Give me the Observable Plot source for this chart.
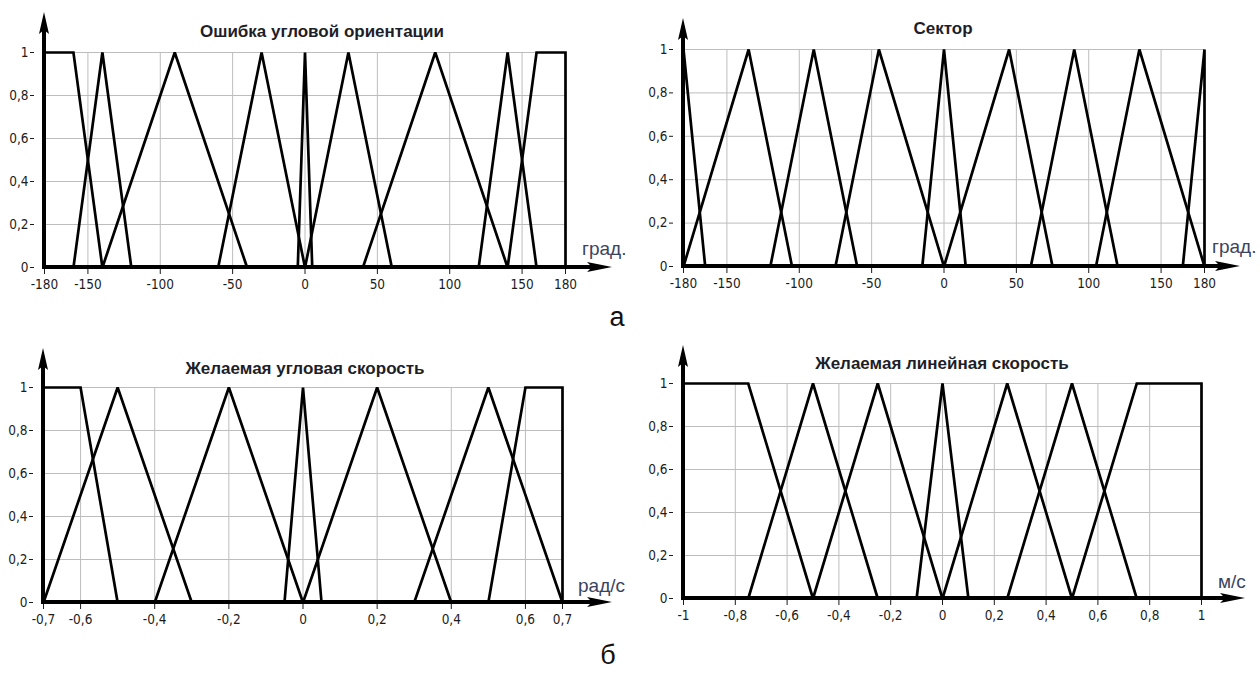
<!DOCTYPE html>
<html><head><meta charset="utf-8">
<script src="https://cdn.jsdelivr.net/npm/d3@7"></script>
<script src="https://cdn.jsdelivr.net/npm/@observablehq/plot@0.6"></script>
<style>
body{margin:0;background:#fff;}
#root{position:relative;width:1260px;height:674px;overflow:hidden;background:#fff;}
#root svg{overflow:visible;}
#root svg text{font-size:13.5px;font-family:"DejaVu Sans Condensed","DejaVu Sans",sans-serif;}
.pn{position:absolute;}
.t{position:absolute;font-family:"Liberation Sans",Arial,sans-serif;font-weight:bold;font-size:17px;line-height:17px;color:#1e1e28;white-space:nowrap;transform:translateX(-50%);}
.u{position:absolute;font-family:"Liberation Sans",Arial,sans-serif;font-size:19px;line-height:19px;color:#3a4460;white-space:nowrap;}
.l{position:absolute;font-family:"Liberation Sans",Arial,sans-serif;font-size:27px;line-height:27px;color:#111;transform:translateX(-50%);}
</style></head><body><div id="root"></div>
<script>
// ---------- data ----------
const degTicks = [-180,-150,-100,-50,0,50,100,150,180];
const degGrid = [-150,-100,-50,0,50,100,150];
const angTicks = [-0.7,-0.6,-0.4,-0.2,0,0.2,0.4,0.6,0.7];
const angGrid = [-0.6,-0.4,-0.2,0,0.2,0.4,0.6];
const linTicks = [-1,-0.8,-0.6,-0.4,-0.2,0,0.2,0.4,0.6,0.8,1];
const linGrid = [-0.8,-0.6,-0.4,-0.2,0,0.2,0.4,0.6,0.8];
const muTicks = [0,0.2,0.4,0.6,0.8,1];
const muGrid = [0.2,0.4,0.6,0.8,1];

const titles = ["Ошибка угловой ориентации","Сектор","Желаемая угловая скорость","Желаемая линейная скорость"];
const units = ["град.","град.","рад/с","м/с"];
const partLabels = ["а","б"];

// membership functions: breakpoints [x, mu]
const errorMF = [
  [[-180,0],[-180,1],[-160,1],[-140,0]],
  [[-160,0],[-140,1],[-120,0]],
  [[-140,0],[-90,1],[-40,0]],
  [[-60,0],[-30,1],[0,0]],
  [[-5,0],[0,1],[5,0]],
  [[0,0],[30,1],[60,0]],
  [[40,0],[90,1],[140,0]],
  [[120,0],[140,1],[160,0]],
  [[140,0],[160,1],[180,1],[180,0]]
];
const sectorMF = [
  [[-180,0],[-180,1],[-165,0]],
  [[-180,0],[-135,1],[-105,0]],
  [[-120,0],[-90,1],[-60,0]],
  [[-75,0],[-45,1],[0,0]],
  [[-15,0],[0,1],[15,0]],
  [[0,0],[45,1],[75,0]],
  [[60,0],[90,1],[120,0]],
  [[105,0],[135,1],[180,0]],
  [[165,0],[180,1],[180,0]]
];
const angularMF = [
  [[-0.7,0],[-0.7,1],[-0.6,1],[-0.5,0]],
  [[-0.7,0],[-0.5,1],[-0.3,0]],
  [[-0.4,0],[-0.2,1],[0,0]],
  [[-0.05,0],[0,1],[0.05,0]],
  [[0,0],[0.2,1],[0.4,0]],
  [[0.3,0],[0.5,1],[0.7,0]],
  [[0.5,0],[0.6,1],[0.7,1],[0.7,0]]
];
const linearMF = [
  [[-1,0],[-1,1],[-0.75,1],[-0.5,0]],
  [[-0.75,0],[-0.5,1],[-0.25,0]],
  [[-0.5,0],[-0.25,1],[0,0]],
  [[-0.1,0],[0,1],[0.1,0]],
  [[0,0],[0.25,1],[0.5,0]],
  [[0.25,0],[0.5,1],[0.75,0]],
  [[0.5,0],[0.75,1],[1,1],[1,0]]
];

// ---------- drawing ----------
const fmt = v => (Math.round(v*100)/100).toString().replace(".", ",");
const root = document.getElementById("root");

function axesMark(p){
  return (index, scales) => {
    const x = scales.x, y = scales.y;
    const x0 = x(p.domain[0]), xe = x(p.domain[1]);
    const yb = y(0), yt = y(1);
    const tipX = xe + p.right, tipY = yt - p.up;
    const g = d3.create("svg:g");
    g.append("line").attr("x1", x0).attr("x2", tipX - 12).attr("y1", yb).attr("y2", yb)
      .attr("stroke", "#000").attr("stroke-width", 4);
    g.append("line").attr("x1", x0).attr("x2", x0).attr("y1", yb + 2).attr("y2", tipY + 12)
      .attr("stroke", "#000").attr("stroke-width", 4);
    g.append("path").attr("fill", "#000")
      .attr("d", `M${tipX},${yb} L${tipX-25},${yb-5} L${tipX-20},${yb} L${tipX-25},${yb+5} Z`);
    g.append("path").attr("fill", "#000")
      .attr("d", `M${x0},${tipY} L${x0-5},${tipY+22} L${x0},${tipY+18} L${x0+5},${tipY+22} Z`);
    return g.node();
  };
}

function panel(p){
  const rows = p.mf.flatMap((pts, i) => pts.map(([xv, yv]) => ({id: i, x: xv, y: yv})));
  const iw = p.xe - p.ax, ih = p.y0 - p.y1;
  const chart = Plot.plot({
    width: 45 + iw + 70, height: 52 + ih + 40,
    marginLeft: 45, marginRight: 70, marginTop: 52, marginBottom: 40,
    style: {fontFamily: "DejaVu Sans Condensed", fontSize: "13.5px", color: "#1c1c1c", background: "transparent", overflow: "visible"},
    x: {domain: p.domain},
    y: {domain: [0, 1]},
    marks: [
      Plot.gridX(p.grid, {stroke: "#bdbdbd", strokeOpacity: 1, strokeWidth: 1}),
      Plot.gridY(muGrid, {stroke: "#bdbdbd", strokeOpacity: 1, strokeWidth: 1}),
      Plot.axisX(p.ticks, {tickFormat: fmt, tickSize: 5, tickPadding: 5, dy: 2, label: null}),
      Plot.axisY(muTicks, {tickFormat: fmt, tickSize: 4, tickPadding: 2, dx: -10, label: null}),
      Plot.line(rows, {x: "x", y: "y", z: "id", stroke: "#000", strokeWidth: 2.7, strokeLinejoin: "miter", strokeMiterlimit: 3}),
      axesMark(p)
    ]
  });
  chart.classList.add("pn");
  chart.style.left = (p.ax - 45) + "px";
  chart.style.top = (p.y1 - 52) + "px";
  root.appendChild(chart);
}

const panels = [
  {mf: errorMF,   domain: [-180, 180], ticks: degTicks, grid: degGrid, ax: 44,  xe: 565,  y1: 52,  y0: 267, up: 40, right: 47},
  {mf: sectorMF,  domain: [-180, 180], ticks: degTicks, grid: degGrid, ax: 683, xe: 1204, y1: 49,  y0: 266, up: 31, right: 36},
  {mf: angularMF, domain: [-0.7, 0.7], ticks: angTicks, grid: angGrid, ax: 43,  xe: 562,  y1: 387, y0: 602, up: 39, right: 50},
  {mf: linearMF,  domain: [-1, 1],     ticks: linTicks, grid: linGrid, ax: 683, xe: 1201, y1: 383, y0: 598, up: 38, right: 44}
];
panels.forEach(panel);

function addText(cls, txt, left, top){
  const d = document.createElement("div");
  d.className = cls; d.textContent = txt;
  d.style.left = left + "px"; d.style.top = top + "px";
  root.appendChild(d);
}
const titlePos = [[322, 23], [943, 20], [305, 360], [942, 355]];
const unitPos = [[582, 239], [1212, 237], [578, 576], [1218, 572]];
titles.forEach((t, i) => addText("t", t, titlePos[i][0], titlePos[i][1]));
units.forEach((u, i) => addText("u", u, unitPos[i][0], unitPos[i][1]));
addText("l", partLabels[0], 617, 304);
addText("l", partLabels[1], 608, 642);
</script>
</body></html>
